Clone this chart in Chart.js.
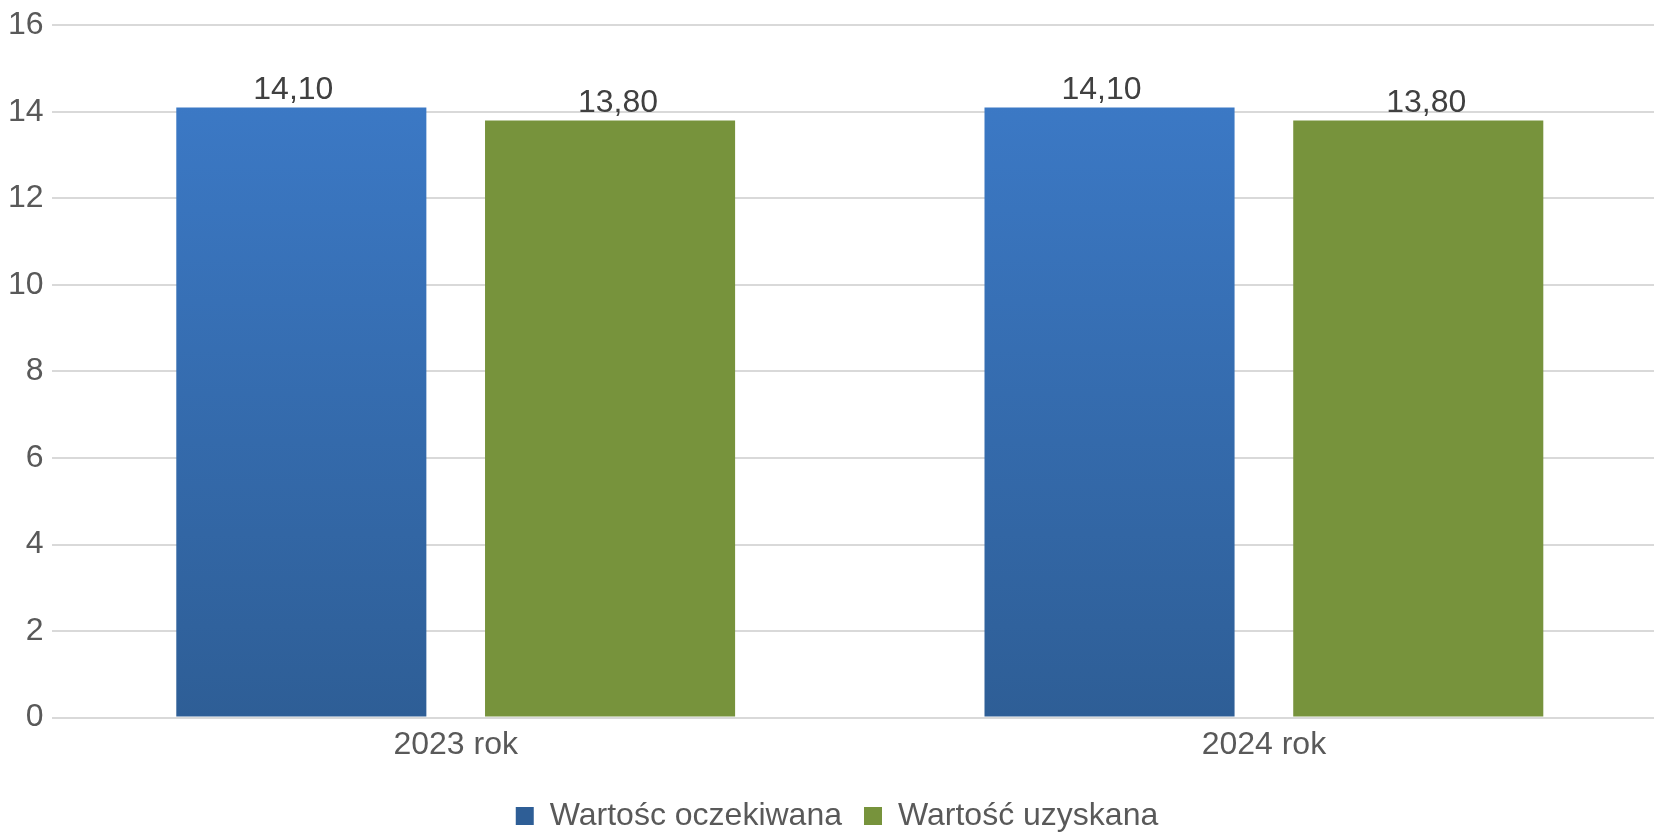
<!DOCTYPE html>
<html>
<head>
<meta charset="utf-8">
<script src="https://cdn.jsdelivr.net/npm/chart.js@4/dist/chart.umd.min.js"></script>
<style>
    html, body { margin: 0; padding: 0; background: #fff; overflow: hidden; }
    /* the source picture is cut off on the right, so the chart is a bit wider than the window */
    #wrap { width: 1668px; height: 833px; position: relative; }
</style>
</head>
<body>
<div id="wrap"><canvas id="chart"></canvas></div>
<script>
const categories = ['2023 rok', '2024 rok'];
const seriesNames = ['Wartośc oczekiwana', 'Wartość uzyskana'];
const expectedValues = [14.1, 14.1];
const obtainedValues = [13.8, 13.8];
const yTicks = [0, 2, 4, 6, 8, 10, 12, 14, 16];

const FONT = '"Liberation Sans", Arial, sans-serif';

function blueGradient (context) {
    const chart = context.chart;
    const area = chart.chartArea;
    if (!area) {
        return '#3a78c4';
    }
    const g = chart.ctx.createLinearGradient(0, area.top, 0, area.bottom);
    g.addColorStop(0, '#3d7ccb');
    g.addColorStop(1, '#2e5e96');
    return g;
}

// value labels above bars, polish decimal comma
const valueLabels = {
    id: 'valueLabels',
    afterDatasetsDraw (chart) {
        const ctx = chart.ctx;
        const shift = [-8, 8];
        ctx.save();
        ctx.font = '32px ' + FONT;
        ctx.fillStyle = '#404040';
        ctx.textAlign = 'center';
        ctx.textBaseline = 'bottom';
        chart.data.datasets.forEach((ds, i) => {
            const meta = chart.getDatasetMeta(i);
            meta.data.forEach((bar, j) => {
                const text = ds.data[j].toFixed(2).replace('.', ',');
                ctx.fillText(text, bar.x + shift[i], bar.y - 1);
            });
        });
        ctx.restore();
    }
};

// nudge the legend a bit lower and to the right
const legendNudge = {
    id: 'legendNudge',
    afterLayout (chart) {
        const lg = chart.legend;
        if (lg) {
            lg.top += 6;
            lg.bottom += 6;
            lg.left += 3;
            lg.right += 3;
        }
    }
};

new Chart(
    document.getElementById('chart'),
    {
        type: 'bar',
        data: {
            labels: categories,
            datasets: [
                {
                    label: seriesNames[0],
                    data: expectedValues,
                    backgroundColor: blueGradient,
                    categoryPercentage: 0.764,
                    barPercentage: 0.81
                },
                {
                    label: seriesNames[1],
                    data: obtainedValues,
                    backgroundColor: '#77933c',
                    categoryPercentage: 0.764,
                    barPercentage: 0.81
                }
            ]
        },
        options: {
            responsive: true,
            maintainAspectRatio: false,
            animation: false,
            layout: {
                padding: { top: 0, left: 0, right: 0, bottom: -3 }
            },
            plugins: {
                legend: {
                    position: 'bottom',
                    labels: {
                        font: { family: FONT, size: 32 },
                        color: '#595959',
                        boxWidth: 18,
                        boxHeight: 18,
                        padding: 22
                    }
                },
                tooltip: { enabled: false }
            },
            scales: {
                x: {
                    grid: { display: false, drawTicks: false },
                    border: { display: false },
                    ticks: {
                        font: { family: FONT, size: 32 },
                        color: '#595959',
                        padding: 8
                    }
                },
                y: {
                    min: yTicks[0],
                    max: yTicks[yTicks.length - 1],
                    grid: { color: '#d9d9d9', lineWidth: 2, drawTicks: false },
                    border: { display: false },
                    afterBuildTicks: (axis) => {
                        axis.ticks = yTicks.map(v => ({ value: v }));
                    },
                    ticks: {
                        font: { family: FONT, size: 32, lineHeight: 1.08 },
                        color: '#595959',
                        padding: 8
                    }
                }
            }
        },
        plugins: [valueLabels, legendNudge]
    }
);
</script>
</body>
</html>
